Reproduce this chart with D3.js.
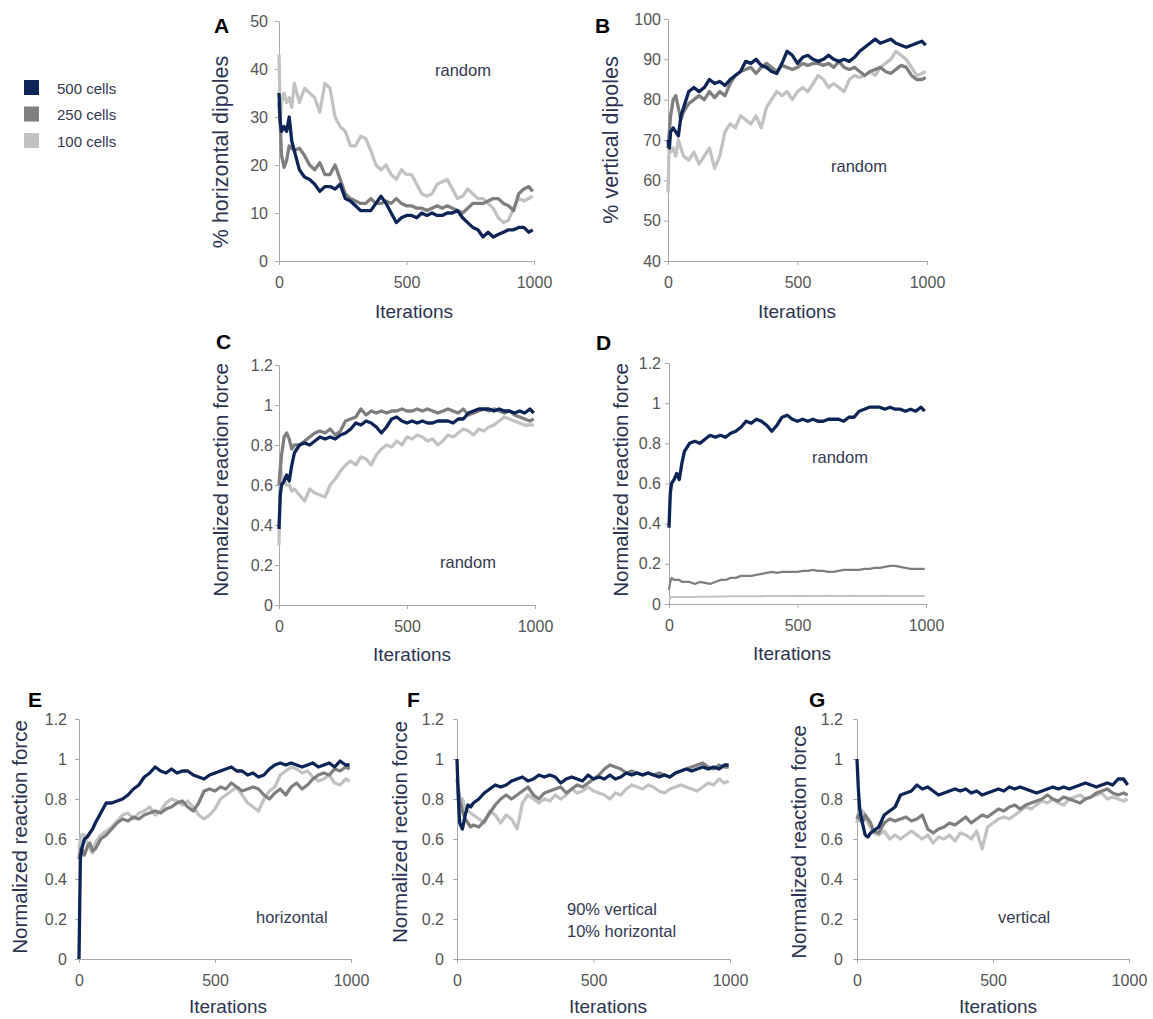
<!DOCTYPE html>
<html>
<head>
<meta charset="utf-8">
<script src="https://cdn.jsdelivr.net/npm/d3@7"></script>
<style>
body { margin: 0; background: #fff; }
svg text { font-family: Arial, "Liberation Sans", sans-serif; }
</style>
</head>
<body>
<script>
const iters = [0,5,10,20,30,40,50,60,80,100,120,140,160,180,200,220,240,260,280,300,320,340,360,380,400,
  420,440,460,480,500,520,540,560,580,600,620,640,660,680,700,720,740,760,780,800,820,840,860,880,900,
  920,940,960,980,995];

const cellLabels = ["500 cells", "250 cells", "100 cells"];
const xTicks = [0, 500, 1000];
const forceTicks = [0, 0.2, 0.4, 0.6, 0.8, 1, 1.2];
const horizTicks = [0, 10, 20, 30, 40, 50];
const vertTicks = [40, 50, 60, 70, 80, 90, 100];

// A: % horizontal dipoles
const A500 = [35,29,27,28,27,30,25,23, 19,17.5,17,16,14.5,15.5,15.5,15,16,13,12.5,11.5,10.5,10.5,10.5,12,13.5,
  12,10,8,9,9.5,9.5,9,10,9.5,10,9.5,9.5,10,10,10.5,9,8,7,6.5,5,6,5,5.5,6,6.5,6.5,7,7,6, 6.5];
const A250 = [33,28,22,19.5,21,24,23.5,23, 23.5,22,20,19,20.5,18,18,20,17,14,13,12.5,12,12,13,12,12,
  12.5,12,13,12,11.5,11.5,11,11,10.5,11,11.5,11,11.5,11,10.5,10,11,12,12,12,12.5,13,13,12,11.5,10.5,14,15,15.5, 14.5];
const A100 = [43,30,33,35,33,34,32,37, 33,36,35,34,31,37,36,30,28,27,24,24,26,25.5,23,20,19,
  20,18,17,19,18,18,16,14,13.5,14,16,16.5,17,15,13,13.5,15,14,13,13,12,11,9,8,8.5,11,13,12.5,13, 13.5];

// B: % vertical dipoles
const B500 = [70,68,72,73,72,71,76,78, 82,83,82,83,85,84,84.5,83.5,85,86,87,89.5,89,90,88.5,88,87,
  86.5,89,92,91,89,90.5,91,90,89.5,90,91,90,89.5,90,89.5,90.5,92,93,94,95,94,94.5,95,94,93.5,93,93.5,94,94.5, 93.5];
const B250 = [68,72,76,80,81,78,75,77, 79,80,81,80,82,80.5,82,81,84,86,87,87.5,88,86.5,88,89,88,
  87,88.5,88,87.5,88,89,88.5,89,89,88.5,89,88,89.5,88,87.5,88,87,86,87,87.5,88,87,86.5,87.5,88.5,88,86,85,85, 85.5];
const B100 = [57,70,67,68,66,70,68,66, 65,67,64,66,68,63,66,72,74,73,76,75,74,76,73,78,80,
  82,81,82,80,82,83,82,84,86,85,83,84,83,82,85,86,85.5,86,87,86,88,89,90,92,91,90,88,86,86.5, 87];

// C and D: normalized reaction force, random
const C500 = [0.38,0.55,0.6,0.62,0.65,0.62,0.7,0.76, 0.8,0.81,0.8,0.82,0.84,0.83,0.84,0.83,0.85,0.86,0.88,0.91,0.9,0.92,0.91,0.89,0.86,
  0.89,0.93,0.94,0.92,0.91,0.92,0.91,0.92,0.91,0.91,0.92,0.92,0.92,0.91,0.93,0.93,0.96,0.97,0.98,0.98,0.98,0.97,0.98,0.97,0.97,0.96,0.97,0.96,0.98, 0.96];
const C250 = [0.6,0.68,0.75,0.84,0.86,0.83,0.78,0.8, 0.8,0.82,0.84,0.86,0.87,0.86,0.88,0.85,0.87,0.92,0.93,0.94,0.98,0.95,0.97,0.96,0.97,
  0.96,0.97,0.97,0.98,0.97,0.97,0.98,0.97,0.98,0.97,0.96,0.97,0.98,0.97,0.96,0.98,0.95,0.96,0.97,0.98,0.97,0.98,0.97,0.96,0.97,0.95,0.94,0.93,0.92, 0.93];
const C100 = [0.3,0.7,0.65,0.62,0.6,0.6,0.57,0.58, 0.55,0.52,0.58,0.56,0.55,0.54,0.6,0.63,0.67,0.7,0.72,0.7,0.74,0.73,0.7,0.75,0.78,
  0.8,0.79,0.82,0.8,0.84,0.83,0.85,0.84,0.82,0.83,0.8,0.82,0.85,0.84,0.86,0.88,0.87,0.85,0.88,0.87,0.89,0.9,0.92,0.94,0.93,0.92,0.91,0.9,0.9, 0.9];
const D500 = C500;
const D250 = [0.07,0.11,0.13,0.12,0.12,0.12,0.11,0.11, 0.11,0.1,0.11,0.105,0.1,0.11,0.12,0.12,0.13,0.13,0.14,0.14,0.14,0.145,0.15,0.155,0.16,
  0.155,0.16,0.16,0.16,0.16,0.165,0.165,0.17,0.165,0.165,0.16,0.16,0.165,0.17,0.17,0.17,0.17,0.175,0.175,0.18,0.18,0.185,0.19,0.19,0.185,0.18,0.175,0.175,0.175, 0.175];
const D100 = [0.02,0.03,0.035,0.035,0.035,0.035,0.035,0.035, 0.035,0.035,0.036,0.036,0.036,0.037,0.037,0.037,0.038,0.038,0.038,0.038,0.039,0.039,0.039,0.04,0.04,
  0.04,0.04,0.04,0.041,0.04,0.04,0.041,0.04,0.04,0.04,0.041,0.04,0.04,0.04,0.04,0.041,0.04,0.04,0.04,0.04,0.04,0.041,0.04,0.04,0.04,0.04,0.04,0.04,0.04, 0.04];

// E: horizontal
const E500 = [0,0.5,0.55,0.6,0.61,0.63,0.65,0.68, 0.73,0.78,0.78,0.79,0.8,0.82,0.85,0.87,0.91,0.93,0.96,0.94,0.93,0.95,0.93,0.94,0.94,
  0.92,0.91,0.9,0.92,0.93,0.94,0.95,0.96,0.94,0.94,0.92,0.93,0.91,0.92,0.95,0.97,0.98,0.97,0.98,0.97,0.96,0.97,0.98,0.96,0.97,0.98,0.96,0.99,0.97, 0.97];
const E250 = [0.5,0.55,0.55,0.52,0.56,0.58,0.54,0.55, 0.6,0.62,0.65,0.68,0.7,0.69,0.71,0.7,0.72,0.73,0.74,0.73,0.75,0.76,0.78,0.79,0.76,
  0.74,0.78,0.84,0.85,0.84,0.86,0.85,0.88,0.86,0.84,0.85,0.86,0.85,0.82,0.8,0.83,0.85,0.82,0.86,0.88,0.85,0.87,0.9,0.92,0.93,0.92,0.95,0.94,0.96, 0.95];
const E100 = [0.55,0.6,0.62,0.62,0.58,0.55,0.53,0.58, 0.62,0.64,0.66,0.69,0.72,0.73,0.7,0.73,0.74,0.76,0.72,0.74,0.78,0.8,0.79,0.77,0.79,
  0.76,0.72,0.7,0.72,0.75,0.8,0.82,0.84,0.86,0.82,0.78,0.76,0.74,0.8,0.84,0.86,0.92,0.94,0.96,0.95,0.93,0.94,0.91,0.89,0.9,0.92,0.88,0.87,0.9, 0.89];

// F: 90% vertical, 10% horizontal
const F500 = [1,0.8,0.68,0.65,0.72,0.77,0.76,0.78, 0.8,0.83,0.85,0.87,0.86,0.87,0.89,0.9,0.91,0.89,0.9,0.92,0.91,0.92,0.91,0.88,0.9,
  0.91,0.9,0.89,0.92,0.9,0.91,0.9,0.92,0.9,0.91,0.93,0.92,0.93,0.92,0.93,0.92,0.91,0.92,0.91,0.93,0.94,0.95,0.94,0.95,0.96,0.95,0.96,0.95,0.97, 0.97];
const F250 = [0.9,0.85,0.8,0.74,0.7,0.68,0.66,0.67, 0.66,0.69,0.73,0.77,0.8,0.82,0.8,0.82,0.84,0.86,0.82,0.8,0.83,0.84,0.85,0.86,0.83,
  0.85,0.87,0.86,0.88,0.9,0.92,0.95,0.97,0.96,0.95,0.93,0.94,0.93,0.92,0.93,0.92,0.93,0.92,0.91,0.93,0.94,0.95,0.96,0.97,0.98,0.96,0.95,0.97,0.96, 0.96];
const F100 = [0.85,0.82,0.8,0.8,0.75,0.74,0.73,0.72, 0.7,0.68,0.74,0.72,0.68,0.72,0.7,0.65,0.78,0.82,0.8,0.78,0.8,0.79,0.82,0.8,0.82,
  0.85,0.83,0.84,0.86,0.84,0.83,0.82,0.8,0.83,0.82,0.85,0.87,0.86,0.85,0.87,0.86,0.84,0.83,0.85,0.86,0.87,0.86,0.85,0.84,0.86,0.88,0.87,0.9,0.88, 0.89];

// G: vertical
const G500 = [1,0.85,0.75,0.68,0.62,0.61,0.63,0.64, 0.66,0.72,0.74,0.76,0.82,0.83,0.84,0.87,0.85,0.86,0.84,0.82,0.83,0.84,0.85,0.84,0.85,
  0.83,0.84,0.82,0.83,0.84,0.85,0.84,0.86,0.85,0.86,0.85,0.84,0.83,0.84,0.85,0.86,0.85,0.86,0.85,0.86,0.87,0.88,0.87,0.86,0.87,0.88,0.87,0.9,0.9, 0.87];
const G250 = [0.7,0.72,0.7,0.68,0.72,0.7,0.68,0.64, 0.63,0.68,0.7,0.69,0.7,0.71,0.69,0.7,0.72,0.65,0.63,0.65,0.66,0.68,0.67,0.69,0.71,
  0.68,0.7,0.72,0.71,0.73,0.75,0.74,0.76,0.77,0.75,0.77,0.78,0.79,0.8,0.82,0.8,0.79,0.81,0.8,0.79,0.78,0.8,0.81,0.83,0.84,0.85,0.83,0.82,0.83, 0.82];
const G100 = [0.68,0.72,0.75,0.74,0.72,0.68,0.66,0.63, 0.62,0.64,0.6,0.62,0.6,0.62,0.64,0.62,0.6,0.62,0.58,0.61,0.6,0.62,0.59,0.63,0.62,
  0.6,0.64,0.55,0.66,0.68,0.7,0.71,0.7,0.72,0.74,0.76,0.75,0.77,0.79,0.78,0.8,0.78,0.77,0.8,0.81,0.82,0.8,0.81,0.82,0.83,0.8,0.81,0.8,0.79, 0.8];

const colors = ["#0c2456", "#7f7f7f", "#c2c2c2"]; // 500, 250, 100 cells
const titleColor = "#2c3452";

const svg = d3.select("body").append("svg")
  .attr("width", 1153)
  .attr("height", 1019);

function panel(p) {
  const x = d3.scaleLinear().domain([0, 1000]).range([p.left, p.right]);
  const y = d3.scaleLinear().domain([p.yTicks[0], p.yTicks[p.yTicks.length - 1]]).range([p.bottom, p.top]);
  const g = svg.append("g");

  const yAxis = d3.axisLeft(y).tickValues(p.yTicks).tickSize(4).tickSizeOuter(0)
    .tickPadding(p.pad).tickFormat(d3.format("~g"));
  const xAxis = d3.axisBottom(x).tickValues(xTicks).tickSize(4).tickSizeOuter(0)
    .tickPadding(12).tickFormat(d3.format("d"));

  const ya = g.append("g").attr("transform", "translate(" + p.left + ",0)").call(yAxis);
  const xa = g.append("g").attr("transform", "translate(0," + p.bottom + ")").call(xAxis);
  for (let a of [ya, xa]) {
    a.select(".domain").attr("stroke", "#a8a8a8");
    a.selectAll(".tick line").attr("stroke", "#a8a8a8");
    a.selectAll(".tick text").attr("fill", "#555").attr("font-size", "16px")
      .attr("font-family", "Arial, 'Liberation Sans', sans-serif");
  }

  // lines, lightest first so 500 cells sits on top
  const line = d3.line().x((d, i) => x(iters[i])).y(d => y(d));
  const series = [p.s100, p.s250, p.s500];
  const order = [2, 1, 0];
  series.forEach(function(s, k) {
    g.append("path")
      .attr("d", line(s))
      .attr("fill", "none")
      .attr("stroke", colors[order[k]])
      .attr("stroke-width", p.widths ? p.widths[k] : 3.3)
      .attr("stroke-linejoin", "round");
  });

  g.append("text")
    .attr("transform", "translate(" + p.ylx + "," + p.yly + ") rotate(-90)")
    .attr("text-anchor", "middle")
    .attr("font-size", p.yfs + "px")
    .attr("fill", titleColor)
    .text(p.yTitle);

  g.append("text")
    .attr("x", p.itx).attr("y", p.ity)
    .attr("text-anchor", "middle")
    .attr("font-size", "19px")
    .attr("fill", titleColor)
    .text("Iterations");

  g.append("text")
    .attr("x", p.lx).attr("y", p.ly)
    .attr("font-size", "21px").attr("font-weight", "bold")
    .attr("fill", "#000")
    .text(p.letter);

  p.notes.forEach(function(n, k) {
    g.append("text")
      .attr("x", p.nx).attr("y", p.ny + k * 22)
      .attr("font-size", "16.5px")
      .attr("fill", "#333a52")
      .text(n);
  });
}

panel({letter: "A", left: 279, right: 534, top: 21, bottom: 261, yTicks: horizTicks, pad: 7,
  s500: A500, s250: A250, s100: A100, yTitle: "% horizontal dipoles", ylx: 228, yly: 152, yfs: 21.5,
  itx: 414, ity: 318, lx: 214, ly: 33, notes: ["random"], nx: 435, ny: 76});
panel({letter: "B", left: 668, right: 927, top: 19, bottom: 261, yTicks: vertTicks, pad: 3,
  s500: B500, s250: B250, s100: B100, yTitle: "% vertical dipoles", ylx: 618, yly: 140, yfs: 21.5,
  itx: 797, ity: 318, lx: 595, ly: 33, notes: ["random"], nx: 831, ny: 172});
panel({letter: "C", left: 279, right: 535, top: 365, bottom: 605, yTicks: forceTicks, pad: 2,
  s500: C500, s250: C250, s100: C100, yTitle: "Normalized reaction force", ylx: 228, yly: 480, yfs: 20.5,
  itx: 412, ity: 661, lx: 216, ly: 349, notes: ["random"], nx: 440, ny: 568});
panel({letter: "D", left: 669, right: 926, top: 363, bottom: 604, yTicks: forceTicks, pad: 4,
  s500: D500, s250: D250, s100: D100, yTitle: "Normalized reaction force", ylx: 628, yly: 480, yfs: 20.5,
  itx: 792, ity: 660, lx: 596, ly: 350, notes: ["random"], nx: 812, ny: 463, widths: [2, 2.2, 3.3]});
panel({letter: "E", left: 79, right: 351, top: 719, bottom: 959, yTicks: forceTicks, pad: 8,
  s500: E500, s250: E250, s100: E100, yTitle: "Normalized reaction force", ylx: 27, yly: 837, yfs: 20.5,
  itx: 228, ity: 1013, lx: 28, ly: 707, notes: ["horizontal"], nx: 256, ny: 923});
panel({letter: "F", left: 457, right: 730, top: 719, bottom: 959, yTicks: forceTicks, pad: 9,
  s500: F500, s250: F250, s100: F100, yTitle: "Normalized rection force", ylx: 407, yly: 832, yfs: 20.5,
  itx: 608, ity: 1013, lx: 407, ly: 707, notes: ["90% vertical", "10% horizontal"], nx: 567, ny: 915});
panel({letter: "G", left: 857, right: 1129, top: 719, bottom: 959, yTicks: forceTicks, pad: 10,
  s500: G500, s250: G250, s100: G100, yTitle: "Normalized reaction force", ylx: 806, yly: 842, yfs: 20.5,
  itx: 998, ity: 1013, lx: 809, ly: 707, notes: ["vertical"], nx: 998, ny: 923});

// legend
const legend = svg.append("g");
cellLabels.forEach(function(label, i) {
  legend.append("rect")
    .attr("x", 24).attr("y", 80 + i * 26.5)
    .attr("width", 15).attr("height", 15)
    .attr("fill", colors[i]);
  legend.append("text")
    .attr("x", 57).attr("y", 93.5 + i * 26.5)
    .attr("font-size", "15px")
    .attr("fill", "#333a52")
    .text(label);
});
</script>
</body>
</html>
